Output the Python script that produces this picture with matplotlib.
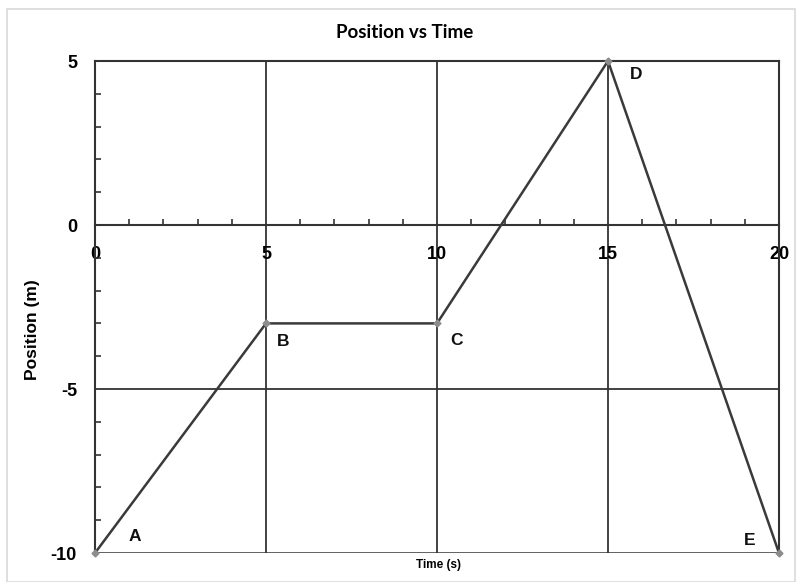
import matplotlib
matplotlib.use("Agg")
import matplotlib.pyplot as plt
from matplotlib.ticker import MultipleLocator
from matplotlib.patches import Rectangle

# data
time_s = [0, 5, 10, 15, 20]
position_m = [-10, -3, -3, 5, -10]
point_names = ["A", "B", "C", "D", "E"]
# label offsets in points from each point
label_offsets = [(29, 12), (12, -13), (14, -12), (20, -10), (-21, 9)]

x_ticks = [0, 5, 10, 15, 20]
y_ticks = [-10, -5, 0, 5]

line_col = "#333333"
plt.rcParams["font.family"] = ["Liberation Sans", "DejaVu Sans"]
plt.rcParams["font.weight"] = "bold"
plt.rcParams["axes.unicode_minus"] = False

fig = plt.figure(figsize=(7.96, 5.82), dpi=100)
fig.patches.append(Rectangle((7 / 796, 0), 788 / 796, 1 - 9 / 582,
                             transform=fig.transFigure, fill=False,
                             edgecolor="#d9d9d9", linewidth=1.2))

ax = fig.add_axes([95 / 796, 1 - 553 / 582, 684 / 796, 492 / 582])
ax.set_xlim(0, 20)
ax.set_ylim(-10, 5)

# grid lines
for gx in [5, 10, 15]:
    ax.axvline(gx, color=line_col, linewidth=1.3, zorder=1)
ax.axhline(-5, color=line_col, linewidth=1.3, zorder=1)
ax.axhline(-10, color=line_col, linewidth=1.8, zorder=1)

for s in ["top", "right", "left"]:
    ax.spines[s].set_color(line_col)
    ax.spines[s].set_linewidth(1.5)
ax.spines["bottom"].set_position(("data", 0))
ax.spines["bottom"].set_color(line_col)
ax.spines["bottom"].set_linewidth(1.5)

ax.set_xticks(x_ticks)
ax.set_yticks(y_ticks)
ax.xaxis.set_minor_locator(MultipleLocator(1))
ax.yaxis.set_minor_locator(MultipleLocator(1))
ax.tick_params(which="major", length=0, labelsize=13)
ax.tick_params(axis="x", which="major", pad=15)
ax.tick_params(axis="y", which="major", pad=13)
ax.tick_params(which="minor", direction="in", length=4, width=1.2, color=line_col)

ax.plot(time_s, position_m, color="#3a3a3a", linewidth=1.8, zorder=3,
        marker="D", markersize=3.5, markerfacecolor="#8c8c8c",
        markeredgecolor="#8c8c8c", clip_on=False)

for tx, py, name, off in zip(time_s, position_m, point_names, label_offsets):
    ax.annotate(name, (tx, py), xytext=off, textcoords="offset points",
                ha="center", va="center", fontsize=12.5, fontweight="bold",
                color="#111111")

fig.text(405 / 796, 1 - 32 / 582, "Position vs Time", ha="center", va="center",
         fontsize=13.5, fontweight="bold", fontfamily="Lato")
fig.text(32 / 796, 1 - 330 / 582, "Position (m)", ha="center", va="center",
         rotation=90, fontsize=12.5, fontweight="bold")
fig.text(439 / 796, 1 - 565 / 582, "Time (s)", ha="center", va="center",
         fontsize=8.5, fontweight="bold")

fig.savefig("out.png", dpi=100)
